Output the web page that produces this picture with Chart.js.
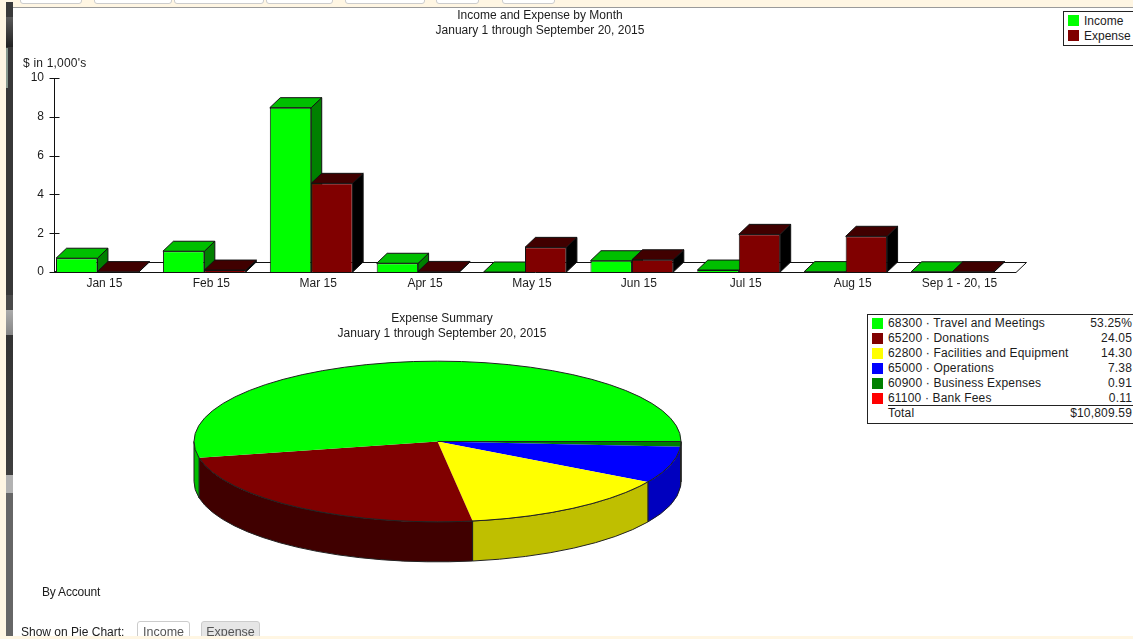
<!DOCTYPE html>
<html>
<head>
<meta charset="utf-8">
<title>Income and Expense by Month</title>
<script src="https://cdn.jsdelivr.net/npm/chart.js@4"></script>
<style>
  html, body { margin: 0; padding: 0; width: 1133px; height: 639px; overflow: hidden; background: #fff; }
  body { font: 12px "Liberation Sans", Arial, sans-serif; color: #1c1c1c; position: relative; }
  canvas { position: absolute; left: 0; display: block; }
  #barChart { top: 0; }
  #pieChart { top: 300px; }
  .abs { position: absolute; white-space: nowrap; line-height: 15px; }
  #cream-top { position: absolute; left: 0; top: 0; width: 1133px; height: 7px; background: #fff6e3; }
  #top-line { position: absolute; left: 13px; top: 7px; width: 1120px; height: 1px; background: #9a9a9a; }
  .tab { position: absolute; top: -6px; height: 8px; background: #fff; border: 1px solid #ccc; border-radius: 3px; }
  #cream-left { position: absolute; left: 0; top: 0; width: 6px; height: 639px; background: #fff6e3; }
  #band { position: absolute; left: 6px; top: 2px; width: 7px; height: 634px;
    background: linear-gradient(to bottom,
      #3a3a3a 0, #3a3a3a 15px, #5a5a5a 15px, #222 45px, #383838 45px, #383838 293px,
      #4a4a4a 293px, #4a4a4a 308px, #ababab 308px, #868686 333px, #333 333px, #3e3e3e 473px,
      #b2b2b2 473px, #b2b2b2 491px, #666 491px, #666 634px); }
  #thumb { position: absolute; left: 6px; top: 48px; width: 2px; height: 40px; background: #8a9a90; }
  #cream-bottom { position: absolute; left: 0; top: 636px; width: 1133px; height: 3px; background: #fff6e3; }
  .box { position: absolute; background: #fff; border: 1px solid #222; box-sizing: border-box; }
  .swatch { position: absolute; width: 11px; height: 11px; }
  .btn { position: absolute; top: 621px; height: 24px; box-sizing: border-box; border: 1px solid #ccc; border-radius: 3px;
    background: #fff; color: #555; text-align: center; line-height: 21px; font-size: 12.5px; }
  .btn.on { background: #e6e6e6; }
  #pieLegend .abs { letter-spacing: 0.18px; }
</style>
</head>
<body>
<canvas id="barChart" width="1080" height="300"></canvas>
<canvas id="pieChart" width="884" height="339"></canvas>

<div id="cream-top"></div>
<div id="top-line"></div>
<div class="tab" style="left:20px;width:60px"></div>
<div class="tab" style="left:94px;width:76px"></div>
<div class="tab" style="left:174px;width:88px"></div>
<div class="tab" style="left:266px;width:65px"></div>
<div class="tab" style="left:345px;width:78px"></div>
<div class="tab" style="left:436px;width:41px"></div>
<div class="tab" style="left:502px;width:51px"></div>
<div id="cream-left"></div>
<div id="band"></div>
<div id="thumb"></div>

<div class="abs" style="left:23px;top:56px;letter-spacing:0.2px">$ in 1,000's</div>
<div class="abs" style="left:42px;top:585px;letter-spacing:-0.2px">By Account</div>
<div class="abs" style="left:21px;top:625px">Show on Pie Chart:</div>
<div class="btn" style="left:137px;width:53px">Income</div>
<div class="btn on" style="left:201px;width:59px">Expense</div>
<div id="cream-bottom"></div>

<div id="barLegend" class="box" style="left:1063px;top:11px;width:120px;height:35px"></div>
<div id="pieLegend" class="box" style="left:867px;top:314px;width:300px;height:110px"></div>

<script>
const months = ["Jan 15", "Feb 15", "Mar 15", "Apr 15", "May 15", "Jun 15", "Jul 15", "Aug 15", "Sep 1 - 20, 15"];
const incomeValues = [0.71, 1.07, 8.47, 0.45, 0, 0.58, 0.1, 0.02, 0.01];
const expenseValues = [0.02, 0.1, 4.57, 0.03, 1.27, 0.63, 1.94, 1.84, 0.02];
const yTicks = [0, 2, 4, 6, 8, 10];

const accounts = [
  "68300 · Travel and Meetings",
  "65200 · Donations",
  "62800 · Facilities and Equipment",
  "65000 · Operations",
  "60900 · Business Expenses",
  "61100 · Bank Fees"
];
const accountPercents = [53.25, 24.05, 14.30, 7.38, 0.91, 0.11];
const accountLabels = ["53.25%", "24.05", "14.30", "7.38", "0.91", "0.11"];
const totalLabel = "$10,809.59";

const barColors = { income: "#00ff00", expense: "#800000" };
const barTops = { income: "#00bf00", expense: "#400000" };
const barSides = { income: "#008000", expense: "#000000" };
const pieColors = ["#00ff00", "#800000", "#ffff00", "#0000ff", "#008000", "#ff0000"];
const pieRims = ["#00bf00", "#400000", "#bfbf00", "#0000bf", "#006000", "#bf0000"];

const font = { family: '"Liberation Sans", Arial, sans-serif', size: 12 };
const textColor = "#1c1c1c";
const lineColor = "#111";

// depth of the fake 3d on the bars
const DX = 10.5, DY = 10;
// the axis and floor sit a bit right of where the category bands start
const FLOOR_SHIFT = 10;

function face(ctx, pts, fill) {
  ctx.beginPath();
  pts.forEach((p, i) => i ? ctx.lineTo(p[0], p[1]) : ctx.moveTo(p[0], p[1]));
  ctx.closePath();
  ctx.fillStyle = fill;
  ctx.fill();
  ctx.stroke();
}

const bars3d = {
  id: "bars3d",
  beforeDatasetsDraw(chart) {
    const { ctx, scales: { x, y } } = chart;
    const base = Math.round(y.getPixelForValue(0)) + 0.5;
    const axisX = x.left + FLOOR_SHIFT + 0.5;
    const right = x.right + FLOOR_SHIFT;

    ctx.save();
    ctx.lineWidth = 1;
    ctx.strokeStyle = lineColor;

    // floor
    face(ctx, [[axisX, base], [right, base], [right + DX, base - DY], [axisX + DX, base - DY]], "#fff");

    // y axis with tick marks through it
    ctx.beginPath();
    ctx.moveTo(axisX, y.getPixelForValue(10));
    ctx.lineTo(axisX, base);
    yTicks.forEach(t => {
      const py = Math.round(y.getPixelForValue(t)) + 0.5;
      ctx.moveTo(axisX - 5, py);
      ctx.lineTo(axisX + 5, py);
    });
    ctx.stroke();

    // tops and sides, the fronts are the real bars drawn after this
    months.forEach((m, i) => {
      ["income", "expense"].forEach((key, d) => {
        const el = chart.getDatasetMeta(d).data[i];
        const l = el.x - el.width / 2, r = el.x + el.width / 2, t = el.y;
        face(ctx, [[r, t], [r + DX, t - DY], [r + DX, el.base - DY], [r, el.base]], barSides[key]);
        face(ctx, [[l, t], [l + DX, t - DY], [r + DX, t - DY], [r, t]], barTops[key]);
      });
    });
    ctx.restore();
  }
};

new Chart(document.getElementById("barChart"), {
  type: "bar",
  data: {
    labels: months,
    datasets: [
      { label: "Income", data: incomeValues, backgroundColor: barColors.income },
      { label: "Expense", data: expenseValues, backgroundColor: barColors.expense }
    ]
  },
  options: {
    responsive: false,
    animation: false,
    events: [],
    datasets: {
      bar: { categoryPercentage: 0.775, barPercentage: 1, borderColor: lineColor, borderWidth: 1 }
    },
    plugins: {
      legend: { display: false },
      tooltip: { enabled: false },
      title: {
        display: true,
        text: ["Income and Expense by Month", "January 1 through September 20, 2015"],
        color: textColor,
        font: { ...font, weight: "normal", lineHeight: 1.25 },
        padding: { top: 8, bottom: 40 }
      }
    },
    scales: {
      x: {
        grid: { display: false, drawTicks: false },
        border: { display: false },
        afterFit(s) { s.height = 28; },
        ticks: { color: textColor, font, padding: 4, labelOffset: 7, maxRotation: 0, autoSkip: false }
      },
      y: {
        min: 0,
        max: 10,
        grid: { display: false, drawTicks: false },
        border: { display: false },
        afterFit(s) { s.width = 44; },
        ticks: { color: textColor, font, padding: 0, stepSize: 2 }
      },
      // empty axis, only holds the plot back from the right so the title stays centred on the canvas
      spacer: {
        position: "right",
        grid: { display: false },
        border: { display: false },
        ticks: { display: false },
        afterFit(s) { s.width = 74; }
      }
    }
  },
  plugins: [bars3d]
});

// pie is squashed into an ellipse and gets a rim under it
const SQUASH = 0.33, RIM = 40;
// title is centred a little right of the pie
const PIE_SHIFT = -4.5;

const pie3d = {
  id: "pie3d",
  beforeDatasetsDraw(chart) {
    const { ctx } = chart;
    const arcs = chart.getDatasetMeta(0).data;
    const { x, y: cy, outerRadius: rx } = arcs[0];
    const cx = x + PIE_SHIFT;
    const ry = rx * SQUASH;

    ctx.save();
    ctx.lineWidth = 1;
    ctx.strokeStyle = "#222";
    arcs.forEach((arc, i) => {
      const a1 = Math.max(arc.startAngle, 0), a2 = Math.min(arc.endAngle, Math.PI);
      if (a2 <= a1) return;
      ctx.beginPath();
      ctx.ellipse(cx, cy, rx, ry, 0, a1, a2);
      ctx.ellipse(cx, cy + RIM, rx, ry, 0, a2, a1, true);
      ctx.closePath();
      ctx.fillStyle = chart.data.datasets[0].rimColor[i];
      ctx.fill();
      ctx.stroke();
    });
    ctx.restore();

    ctx.save();
    ctx.translate(cx, cy);
    ctx.scale(1, SQUASH);
    ctx.translate(-x, -cy);
  },
  afterDatasetsDraw(chart) {
    const { ctx } = chart;
    ctx.restore();
    const { x, y: cy, outerRadius: rx } = chart.getDatasetMeta(0).data[0];
    const cx = x + PIE_SHIFT;
    ctx.save();
    ctx.lineWidth = 1;
    ctx.strokeStyle = "#222";
    ctx.beginPath();
    ctx.ellipse(cx, cy, rx, rx * SQUASH, 0, 0, Math.PI * 2);
    ctx.moveTo(cx, cy);
    ctx.lineTo(cx + rx, cy);
    ctx.stroke();
    ctx.restore();
  }
};

// slices run counter clockwise from 3 o'clock in the picture, chart.js goes clockwise
new Chart(document.getElementById("pieChart"), {
  type: "pie",
  data: {
    labels: [...accounts].reverse(),
    datasets: [{
      data: [...accountPercents].reverse(),
      backgroundColor: [...pieColors].reverse(),
      rimColor: [...pieRims].reverse(),
      borderWidth: 0,
      radius: 243.5,
      clip: false
    }]
  },
  options: {
    responsive: false,
    animation: false,
    events: [],
    rotation: 90,
    layout: { padding: { left: 0, right: 0, top: 0, bottom: 100 } },
    plugins: {
      legend: { display: false },
      tooltip: { enabled: false },
      title: {
        display: true,
        text: ["Expense Summary", "January 1 through September 20, 2015"],
        color: textColor,
        font: { ...font, weight: "normal", lineHeight: 1.25 },
        padding: { top: 11, bottom: 3 }
      }
    }
  },
  plugins: [pie3d]
});

// legend boxes
function addText(box, text, left, top, right) {
  const d = document.createElement("div");
  d.className = "abs";
  d.textContent = text;
  if (right !== undefined) d.style.right = right + "px"; else d.style.left = left + "px";
  d.style.top = top + "px";
  box.appendChild(d);
  return d;
}
function addSwatch(box, color, left, top) {
  const s = document.createElement("div");
  s.className = "swatch";
  s.style.cssText = "left:" + left + "px;top:" + top + "px;background:" + color;
  box.appendChild(s);
}

const barLegend = document.getElementById("barLegend");
["Income", "Expense"].forEach((name, i) => {
  addSwatch(barLegend, i ? barColors.expense : barColors.income, 4, 3 + 15 * i);
  addText(barLegend, name, 20, 1.5 + 15 * i);
});

const pieLegend = document.getElementById("pieLegend");
const valueRight = 34;
accounts.forEach((name, i) => {
  addSwatch(pieLegend, pieColors[i], 4, 2.5 + 15 * i);
  addText(pieLegend, name, 20, 0.5 + 15 * i);
  addText(pieLegend, accountLabels[i], 0, 0.5 + 15 * i, valueRight);
});
const rule = document.createElement("div");
rule.style.cssText = "position:absolute;left:20px;top:90px;width:280px;height:1px;background:#222";
pieLegend.appendChild(rule);
addText(pieLegend, "Total", 20, 91);
addText(pieLegend, totalLabel, 0, 91, valueRight);
</script>
</body>
</html>
